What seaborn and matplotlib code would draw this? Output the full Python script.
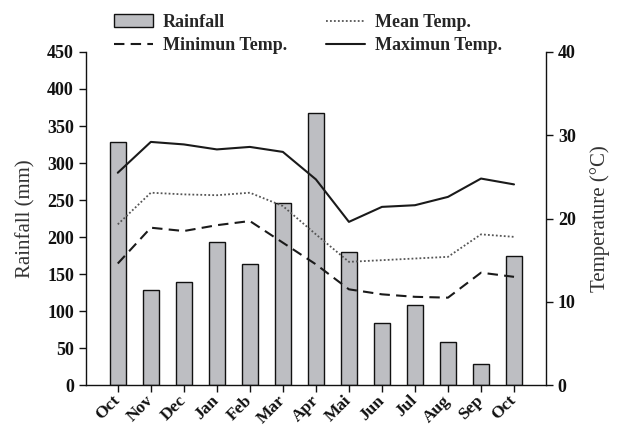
import numpy as np
import pandas as pd
import matplotlib
matplotlib.use("Agg")
import matplotlib.pyplot as plt
import seaborn as sns
from matplotlib.patches import Patch
from matplotlib.lines import Line2D

months = ["Oct", "Nov", "Dec", "Jan", "Feb", "Mar", "Apr", "Mai",
          "Jun", "Jul", "Aug", "Sep", "Oct"]
rainfall = [328, 128, 139, 193, 164, 246, 368, 180, 84, 108, 58, 28, 174]
temp_max = [25.5, 29.2, 28.9, 28.3, 28.6, 28.0, 24.7, 19.6, 21.4, 21.6, 22.6, 24.8, 24.1]
temp_mean = [19.3, 23.1, 22.9, 22.8, 23.1, 21.5, 18.1, 14.8, 15.0, 15.2, 15.4, 18.1, 17.8]
temp_min = [14.6, 18.9, 18.5, 19.2, 19.7, 17.1, 14.5, 11.5, 10.9, 10.6, 10.5, 13.5, 13.0]

rain_ticks = list(range(0, 451, 50))
temp_ticks = [0, 10, 20, 30, 40]

sns.set_theme(style="ticks")
plt.rcParams["font.family"] = ["Liberation Serif", "DejaVu Serif"]

idx = np.arange(len(months))
df = pd.DataFrame({"pos": idx, "rain": rainfall, "tmax": temp_max,
                   "tmean": temp_mean, "tmin": temp_min})

fig = plt.figure(figsize=(6.17, 4.26), dpi=100)
ax = fig.add_axes([0.139, 0.096, 0.746, 0.782])

sns.barplot(data=df, x="pos", y="rain", ax=ax, color="#bdbec2",
            edgecolor="#111111", linewidth=1.0, width=0.48, saturation=1)
ax.set_xlim(-0.97, 12.97)
ax.set_ylim(0, 450)
ax.set_yticks(rain_ticks)
ax.set_yticklabels([str(t) for t in rain_ticks], fontweight="bold", fontsize=13)
ax.set_xticks(idx)
ax.set_xticklabels(months, rotation=45, ha="right", va="center",
                   rotation_mode="anchor", fontweight="bold", fontsize=12.5)
ax.tick_params(axis="x", pad=4.5)
ax.set_xlabel("")
ax.set_ylabel("Rainfall (mm)", fontsize=15, color="#333333", labelpad=8)

ax2 = ax.twinx()
sns.lineplot(data=df, x="pos", y="tmax", ax=ax2, color="#1a1a1a", lw=1.5)
sns.lineplot(data=df, x="pos", y="tmean", ax=ax2, color="#555555", lw=1.3,
             linestyle=(0, (1, 1.2)))
sns.lineplot(data=df, x="pos", y="tmin", ax=ax2, color="#1a1a1a", lw=1.5,
             linestyle=(0, (5, 3)))
ax2.set_ylim(0, 40)
ax2.set_xlim(-0.97, 12.97)
ax2.set_yticks(temp_ticks)
ax2.set_yticklabels([str(t) for t in temp_ticks], fontweight="bold", fontsize=13)
ax2.set_ylabel("Temperature (\u00b0C)", fontsize=15, color="#333333", labelpad=10)
ax2.set_xlabel("")

for a in (ax, ax2):
    a.spines["top"].set_visible(False)
    for s in a.spines.values():
        s.set_color("#111111")
        s.set_linewidth(1.0)
    a.tick_params(colors="#111111", length=5, width=1.0)
ax.spines["right"].set_visible(False)
ax2.spines["left"].set_visible(False)
ax2.spines["bottom"].set_visible(False)

handles = [
    Patch(facecolor="#bdbec2", edgecolor="#111111", linewidth=1.0),
    Line2D([], [], color="#1a1a1a", lw=1.5, linestyle=(0, (5, 3))),
    Line2D([], [], color="#555555", lw=1.3, linestyle=(0, (1, 1.2))),
    Line2D([], [], color="#1a1a1a", lw=1.5),
]
labels = ["Rainfall", "Minimun Temp.", "Mean Temp.", "Maximun Temp."]
fig.legend(handles, labels, ncol=2, loc="upper left",
           bbox_to_anchor=(0.158, 1.005), frameon=False,
           prop={"weight": "bold", "size": 13}, handlelength=2.15,
           columnspacing=2.15, labelspacing=0.35, handletextpad=0.57)

fig.savefig("out.png", dpi=100)
